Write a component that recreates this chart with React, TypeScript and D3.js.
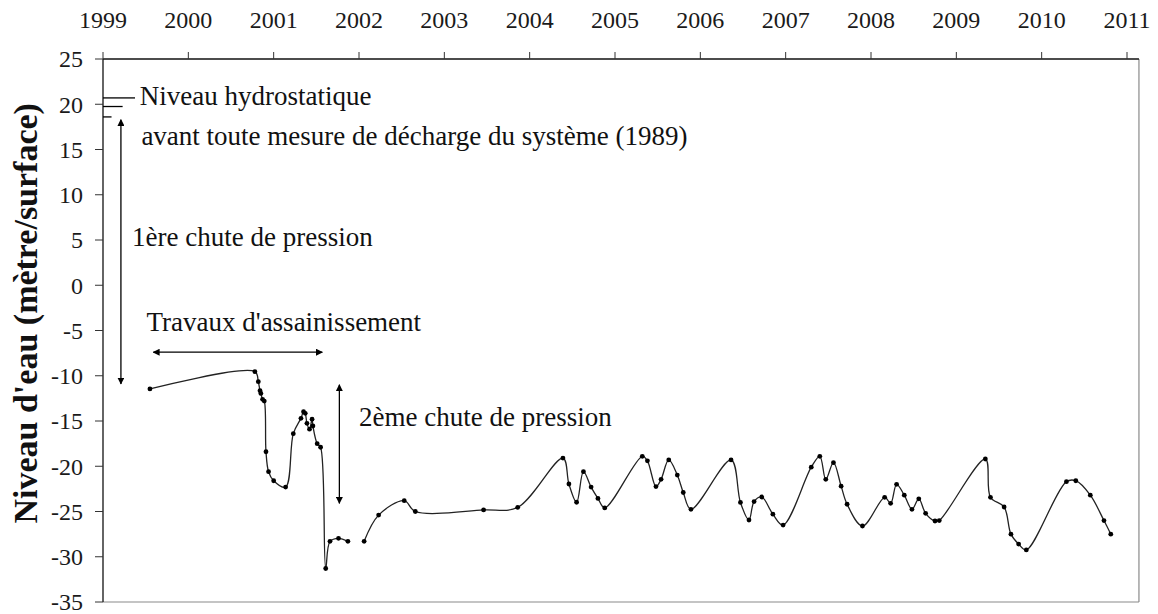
import { useEffect, useRef } from 'react'
import * as d3 from 'd3'

// decimal years / water level (m)
const yearsA = [1999.55, 2000.78, 2000.82, 2000.84, 2000.85, 2000.87, 2000.89, 2000.91, 2000.94, 2001.0, 2001.14, 2001.23, 2001.32, 2001.35, 2001.37, 2001.39, 2001.42, 2001.45, 2001.46, 2001.51, 2001.55, 2001.61, 2001.66, 2001.76, 2001.87]
const levelsA = [-11.46, -9.55, -10.66, -11.65, -11.95, -12.6, -12.8, -18.4, -20.6, -21.6, -22.3, -16.4, -14.7, -13.97, -14.15, -15.26, -15.9, -14.8, -15.55, -17.5, -17.9, -31.3, -28.3, -27.96, -28.3]

const yearsB = [2002.06, 2002.23, 2002.53, 2002.66, 2003.46, 2003.86, 2004.39, 2004.46, 2004.55, 2004.63, 2004.72, 2004.8, 2004.88, 2005.32, 2005.38, 2005.48, 2005.54, 2005.63, 2005.73, 2005.8, 2005.89, 2006.36, 2006.47, 2006.57, 2006.63, 2006.72, 2006.85, 2006.97, 2007.3, 2007.4, 2007.47, 2007.56, 2007.65, 2007.72, 2007.9, 2008.16, 2008.23, 2008.3, 2008.39, 2008.48, 2008.56, 2008.64, 2008.75, 2008.8, 2009.34, 2009.4, 2009.56, 2009.64, 2009.73, 2009.82, 2010.29, 2010.4, 2010.57, 2010.73, 2010.81]
const levelsB = [-28.3, -25.4, -23.8, -25.0, -24.83, -24.54, -19.1, -21.96, -23.98, -20.6, -22.3, -23.55, -24.6, -18.9, -19.4, -22.25, -21.45, -19.3, -20.97, -22.9, -24.76, -19.3, -24.0, -25.94, -23.9, -23.4, -25.3, -26.5, -20.1, -18.9, -21.45, -19.6, -22.2, -24.2, -26.6, -23.43, -24.1, -22.0, -23.2, -24.76, -23.6, -25.2, -26.05, -26.0, -19.2, -23.43, -24.5, -27.5, -28.6, -29.25, -21.7, -21.6, -23.2, -26.0, -27.5]

const yearTicks = [1999, 2000, 2001, 2002, 2003, 2004, 2005, 2006, 2007, 2008, 2009, 2010, 2011]
const levelTicks = [25, 20, 15, 10, 5, 0, -5, -10, -15, -20, -25, -30, -35]

const serif = '"Liberation Serif", "Times New Roman", serif'

export default function App() {
  const svgRef = useRef<SVGSVGElement>(null)

  useEffect(() => {
    if (!svgRef.current) return
    const width = 1158
    const height = 614

    const x = d3.scaleLinear().domain([1999, 2011]).range([103, 1127])
    const y = d3.scaleLinear().domain([25, -35]).range([59, 602])

    const svg = d3.select(svgRef.current)
    svg.selectAll('*').remove()
    svg.attr('width', width).attr('height', height).style('background', '#fff')

    const defs = svg.append('defs')
    defs
      .append('marker')
      .attr('id', 'head')
      .attr('viewBox', '0 0 10 10')
      .attr('refX', 9)
      .attr('refY', 5)
      .attr('markerWidth', 7)
      .attr('markerHeight', 7)
      .attr('orient', 'auto-start-reverse')
      .attr('markerUnits', 'userSpaceOnUse')
      .append('path')
      .attr('d', 'M0,0 L10,5 L0,10 z')
      .attr('fill', '#000')

    // plot frame: right & bottom grey, top & left black
    svg.append('line').attr('x1', x(2011.14)).attr('x2', x(2011.14)).attr('y1', y(25)).attr('y2', y(-35)).attr('stroke', '#8a8a8a').attr('stroke-width', 1.2)
    svg.append('line').attr('x1', x(1999)).attr('x2', x(2011.14)).attr('y1', y(-35)).attr('y2', y(-35)).attr('stroke', '#8a8a8a').attr('stroke-width', 1.2)

    // top axis
    const top = svg.append('g').attr('transform', `translate(0,${y(25)})`)
    top.append('line').attr('x1', x(1999)).attr('x2', x(2011.14)).attr('stroke', '#111').attr('stroke-width', 1.3)
    top
      .selectAll('line.t')
      .data(yearTicks)
      .enter()
      .append('line')
      .attr('class', 't')
      .attr('x1', d => x(d))
      .attr('x2', d => x(d))
      .attr('y1', 0)
      .attr('y2', -7)
      .attr('stroke', '#333')
    top
      .selectAll('text')
      .data(yearTicks)
      .enter()
      .append('text')
      .attr('x', d => x(d))
      .attr('y', -31)
      .attr('text-anchor', 'middle')
      .style('font-family', serif)
      .style('font-size', '24px')
      .style('fill', '#1a1a1a')
      .text(d => d)

    // left axis
    const left = svg.append('g').attr('transform', `translate(${x(1999)},0)`)
    left.append('line').attr('y1', y(25)).attr('y2', y(-35)).attr('stroke', '#111').attr('stroke-width', 1.3)
    left
      .selectAll('line.t')
      .data(levelTicks)
      .enter()
      .append('line')
      .attr('class', 't')
      .attr('x1', -8)
      .attr('x2', 0)
      .attr('y1', d => y(d))
      .attr('y2', d => y(d))
      .attr('stroke', '#333')
    left
      .selectAll('text')
      .data(levelTicks)
      .enter()
      .append('text')
      .attr('x', -20)
      .attr('y', d => y(d))
      .attr('dy', '0.35em')
      .attr('text-anchor', 'end')
      .style('font-family', serif)
      .style('font-size', '24px')
      .style('fill', '#1a1a1a')
      .text(d => d)

    // y title
    svg
      .append('text')
      .attr('transform', `translate(37, ${y(-3.1)}) rotate(-90)`)
      .attr('text-anchor', 'middle')
      .style('font-family', serif)
      .style('font-size', '34px')
      .style('font-weight', 'bold')
      .style('fill', '#111')
      .text("Niveau d'eau (mètre/surface)")

    // series
    const line = d3
      .line<[number, number]>()
      .x(d => x(d[0]))
      .y(d => y(d[1]))
      .curve(d3.curveCatmullRom.alpha(0.5))

    const segments: [number, number][][] = [
      yearsA.map((t, i) => [t, levelsA[i]]),
      yearsB.map((t, i) => [t, levelsB[i]]),
    ]

    segments.forEach(seg => {
      svg
        .append('path')
        .attr('d', line(seg))
        .attr('fill', 'none')
        .attr('stroke', '#222')
        .attr('stroke-width', 1.3)
      svg
        .append('g')
        .selectAll('circle')
        .data(seg)
        .enter()
        .append('circle')
        .attr('cx', d => x(d[0]))
        .attr('cy', d => y(d[1]))
        .attr('r', 2.4)
        .attr('fill', '#000')
    })

    // annotations
    const ann = svg.append('g').attr('stroke', '#000').attr('stroke-width', 1.3)
    ann.append('line').attr('x1', x(1999)).attr('x2', x(1999.375)).attr('y1', y(20.7)).attr('y2', y(20.7))
    ann.append('line').attr('x1', x(1999)).attr('x2', x(1999.23)).attr('y1', y(19.75)).attr('y2', y(19.75))
    ann.append('line').attr('x1', x(1999)).attr('x2', x(1999.1)).attr('y1', y(18.6)).attr('y2', y(18.6))

    const arrow = (x1: number, y1: number, x2: number, y2: number) =>
      ann
        .append('line')
        .attr('x1', x(x1))
        .attr('y1', y(y1))
        .attr('x2', x(x2))
        .attr('y2', y(y2))
        .attr('marker-start', 'url(#head)')
        .attr('marker-end', 'url(#head)')

    arrow(1999.21, 18.3, 1999.21, -10.9)
    arrow(1999.59, -7.4, 2001.57, -7.4)
    arrow(2001.77, -11.0, 2001.77, -24.1)

    const label = (t: number, v: number, s: string) =>
      svg
        .append('text')
        .attr('x', x(t))
        .attr('y', y(v))
        .style('font-family', serif)
        .style('font-size', '27px')
        .style('fill', '#111')
        .text(s)

    label(1999.43, 19.9, 'Niveau hydrostatique')
    label(1999.45, 15.5, 'avant toute mesure de décharge du système (1989)')
    label(1999.34, 4.3, '1ère chute de pression')
    label(1999.51, -5.1, "Travaux d'assainissement")
    label(2002.0, -15.6, '2ème chute de pression')
  }, [])

  return (
    <div style={{ position: 'absolute', left: 0, top: 0 }}>
      <svg ref={svgRef}></svg>
    </div>
  )
}
